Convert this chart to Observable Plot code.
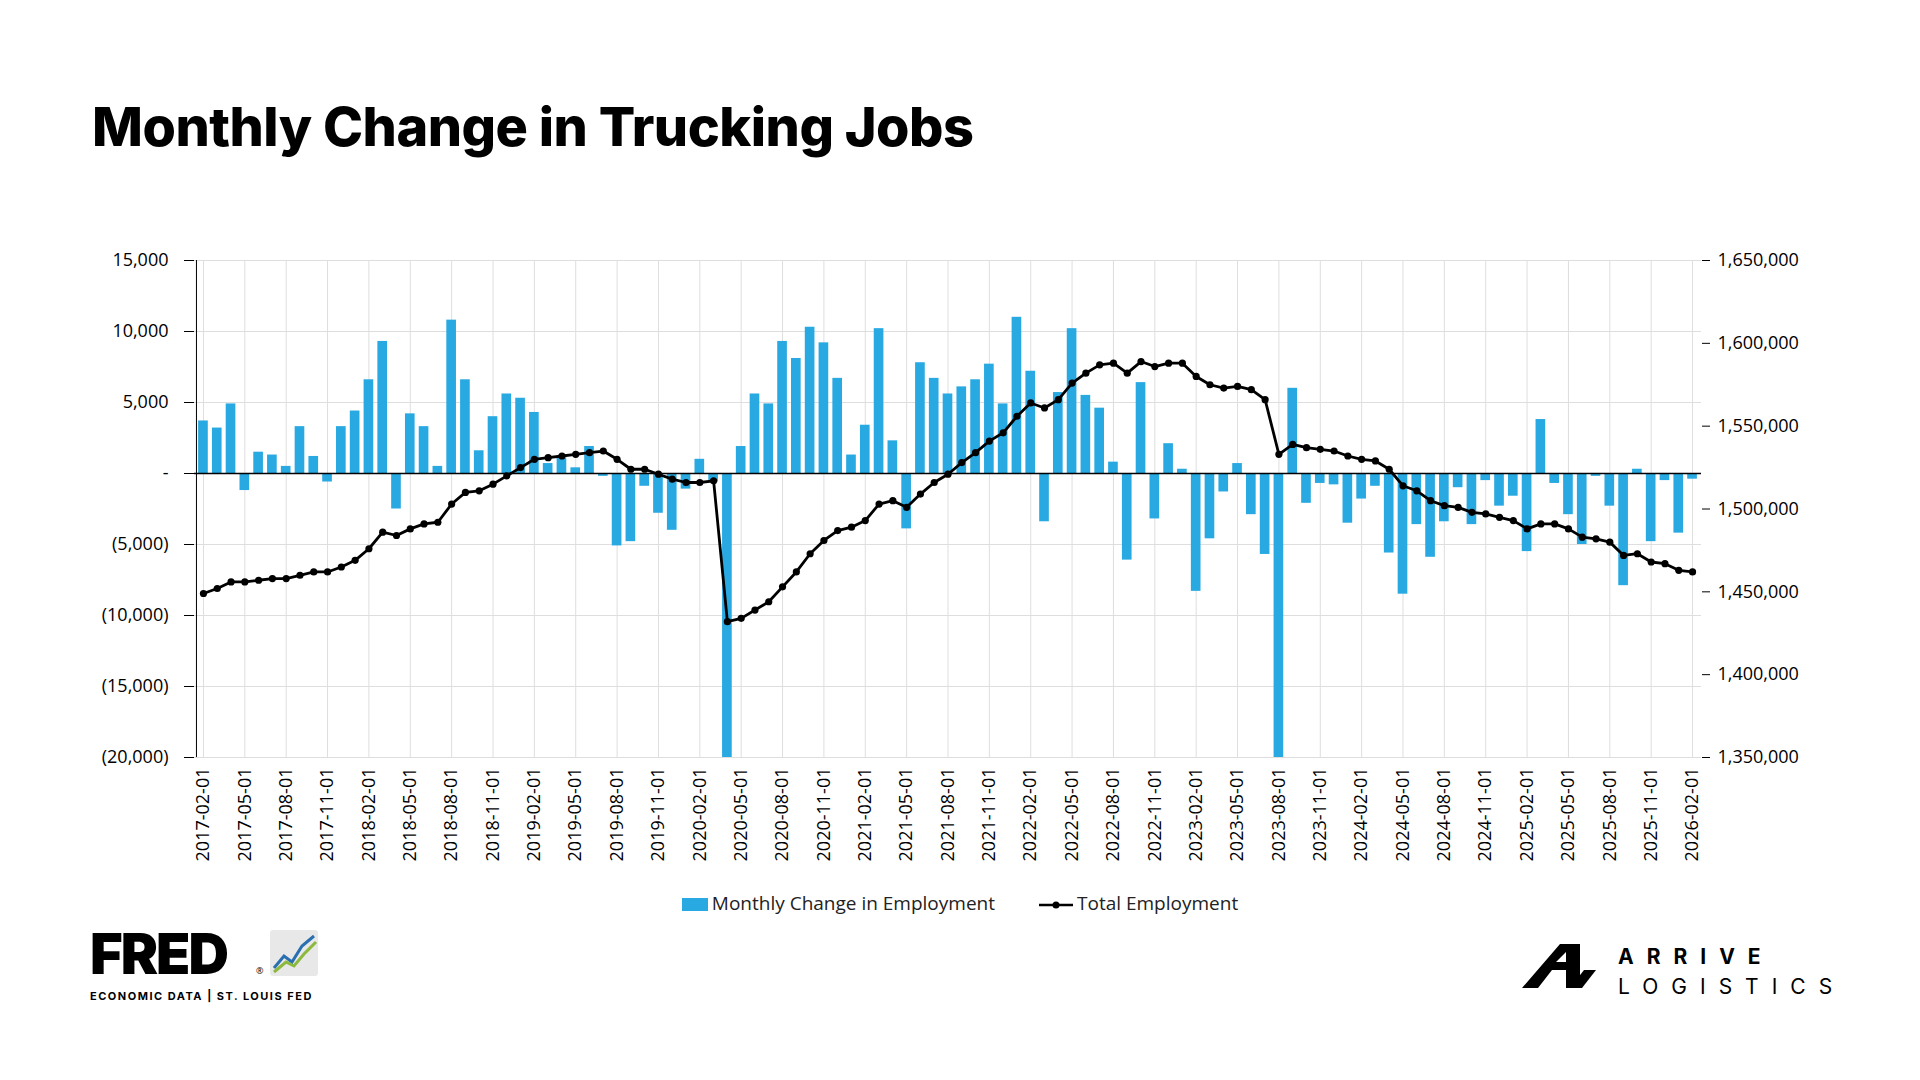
<!DOCTYPE html>
<html><head><meta charset="utf-8">
<script src="https://cdn.jsdelivr.net/npm/d3@7"></script>
<script src="https://cdn.jsdelivr.net/npm/@observablehq/plot@0.6"></script>
<style>
html,body{margin:0;padding:0;background:#fff;width:1920px;height:1080px;overflow:hidden;font-family:"Open Sans",sans-serif;}
#title{position:absolute;left:92px;top:94px;font-family:Inter,sans-serif;font-weight:800;font-size:54px;letter-spacing:-0.5px;color:#000;}
#chart{position:absolute;left:0;top:200px;}
#legend{position:absolute;top:888px;left:0;width:1920px;text-align:center;font-size:19px;color:#222;}
#legend span{display:inline-block;margin:0 22px;vertical-align:middle}
.sw{display:inline-block;width:26px;height:13px;background:#29a9e1;vertical-align:middle;margin-right:4px}
#fred{position:absolute;left:90px;top:912px;}
#arrive{position:absolute;left:1522px;top:940px;}
</style></head><body>
<div id="title">Monthly Change in Trucking Jobs</div>
<div id="chart"></div>
<div id="legend"><span><i class="sw"></i>Monthly Change in Employment</span><span><svg width="34" height="12" style="vertical-align:middle;margin-right:4px"><line x1="0" y1="6" x2="34" y2="6" stroke="#000" stroke-width="2.5"/><circle cx="17" cy="6" r="3.5"/></svg>Total Employment</span></div>
<div id="fred"><svg width="320" height="100">
<text x="0" y="62" font-family="Inter,sans-serif" font-weight="900" font-size="56" letter-spacing="-2">FRED</text>
<text x="166" y="62" font-size="9">®</text>
<rect x="180" y="18" width="48" height="46" rx="3" fill="#e8e8e8"/>
<polyline points="184,56 194,44 202,50 212,34 224,24" fill="none" stroke="#2a6fb0" stroke-width="3"/>
<polyline points="184,60 196,50 204,54 214,42 226,30" fill="none" stroke="#8cb83c" stroke-width="3"/>
<text x="0" y="88" font-family="Inter,sans-serif" font-weight="700" font-size="11" letter-spacing="1.5">ECONOMIC DATA  |  ST. LOUIS FED</text>
</svg></div>
<div id="arrive"><svg width="380" height="60">
<path d="M0,48 L38,4 L58,4 L58,48 L44,48 L44,30 L30,30 L16,48 Z M34,22 L44,22 L44,12 Z" fill="#000"/>
<path d="M48,48 L62,30 L74,30 L60,48Z" fill="#000"/>
<text x="96" y="24" font-family="Inter,sans-serif" font-weight="700" font-size="21" letter-spacing="13">ARRIVE</text>
<text x="96" y="54" font-family="Inter,sans-serif" font-weight="400" font-size="21" letter-spacing="13">LOGISTICS</text>
</svg></div>
<script>
const change = [
 3.7,3.2,4.9,-1.2,1.5,1.3,0.5,3.3,1.2,-0.6,3.3,
 4.4,6.6,9.3,-2.5,4.2,3.3,0.5,10.8,6.6,1.6,4.0,5.6,
 5.3,4.3,0.7,1.1,0.4,1.9,-0.2,-5.1,-4.8,-0.9,-2.8,-4.0,
 -1.1,1.0,-0.6,-28,1.9,5.6,4.9,9.3,8.1,10.3,9.2,6.7,
 1.3,3.4,10.2,2.3,-3.9,7.8,6.7,5.6,6.1,6.6,7.7,4.9,
 11.0,7.2,-3.4,5.7,10.2,5.5,4.6,0.8,-6.1,6.4,-3.2,2.1,
 0.3,-8.3,-4.6,-1.3,0.7,-2.9,-5.7,-24,6.0,-2.1,-0.7,-0.8,
 -3.5,-1.8,-0.9,-5.6,-8.5,-3.6,-5.9,-3.4,-1.0,-3.6,-0.5,-2.3,
 -1.6,-5.5,3.8,-0.7,-2.9,-5.0,-0.2,-2.3,-7.9,0.3,-4.8,-0.5,
 -4.2,-0.4
].map(v=>v*1000);
const total = [
 1449,1452,1456,1456,1457,1458,1458,1460,1462,1462,1465,
 1469,1476,1486,1484,1488,1491,1492,1503,1510,1511,1515,1520,
 1525,1530,1531,1532,1533,1534,1535,1530,1524,1524,1521,1518,
 1516,1516,1517,1432,1434,1439,1444,1453,1462,1473,1481,1487,
 1489,1493,1503,1505,1501,1509,1516,1521,1528,1534,1541,1546,
 1556,1564,1561,1566,1576,1582,1587,1588,1582,1589,1586,1588,
 1588,1580,1575,1573,1574,1572,1566,1533,1539,1537,1536,1535,
 1532,1530,1529,1524,1514,1511,1505,1502,1501,1498,1497,1495,
 1493,1488,1491,1491,1488,1483,1482,1480,1472,1473,1468,1467,
 1463,1462
].map(v=>v*1000);
const months = d3.range(change.length).map(i=>{const d=new Date(Date.UTC(2017,1+i,1));return d.toISOString().slice(0,10);});
const tickLabels = months.filter((m,i)=>i%3===0);
const leftTicks = [15000,10000,5000,0,-5000,-10000,-15000,-20000];
const rightTicks = [1350000,1400000,1450000,1500000,1550000,1600000,1650000];

const toLeft = v => (v-1350000)/300000*35000 - 20000;
const fromLeft = y => (y+20000)/35000*300000 + 1350000;
const data = months.map((m,i)=>({m, c:change[i], t:toLeft(total[i])}));
const fmtL = v => v===0 ? "-" : v<0 ? "("+d3.format(",")(-v)+")" : d3.format(",")(v);

const chart = Plot.plot({
  width:1920, height:690,
  marginLeft:194, marginRight:219, marginTop:60, marginBottom:133,
  style:{fontFamily:"'Open Sans',sans-serif", fontSize:"18px", color:"#000"},
  x:{type:"band", domain:months, padding:0.3, align:0.5, label:null},
  y:{domain:[-20000,15000], label:null},
  marks:[
    Plot.gridY(leftTicks,{stroke:"#dedede", strokeOpacity:1}),
    Plot.gridX(tickLabels,{stroke:"#dedede", strokeOpacity:1}),
    Plot.rectY(data,{x:"m", y:"c", fill:"#29a9e1", clip:true}),
    Plot.ruleY([0],{stroke:"#000", strokeWidth:1.5}),
    Plot.ruleX([months[0]],{stroke:"#000", dx:-7}),
    Plot.line(data,{x:"m", y:"t", stroke:"#000", strokeWidth:2.8}),
    Plot.dot(data,{x:"m", y:"t", fill:"#000", r:3.6}),
    Plot.axisY(leftTicks,{anchor:"left", tickFormat:fmtL, tickSize:10, tickPadding:16, fontSize:18, label:null}),
    Plot.axisY(rightTicks.map(toLeft),{anchor:"right", tickFormat:v=>d3.format(",")(Math.round(fromLeft(v)/1000)*1000), tickSize:8, tickPadding:8, fontSize:18, label:null}),
    Plot.axisX(tickLabels,{anchor:"bottom", tickRotate:-90, tickSize:0, tickPadding:10, fontSize:18, label:null})
  ]
});
document.getElementById("chart").appendChild(chart);
</script>
</body></html>
